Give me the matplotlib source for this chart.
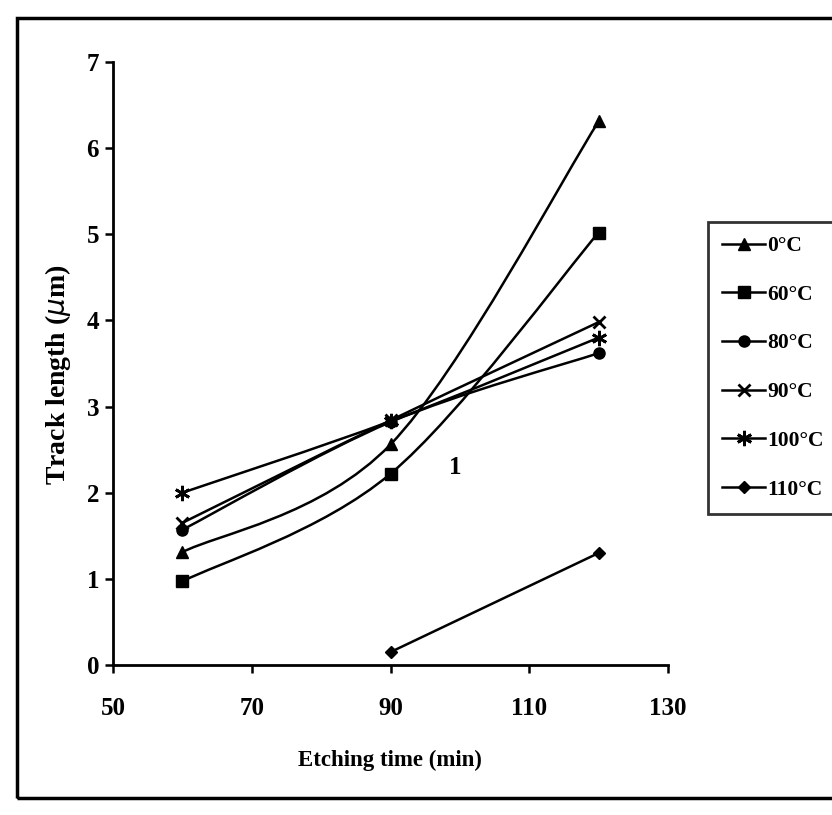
import matplotlib
matplotlib.use("Agg")
import matplotlib.pyplot as plt
from matplotlib.path import Path
from matplotlib.patches import PathPatch, Rectangle
from matplotlib.lines import Line2D

plt.rcParams['font.family'] = ['Liberation Serif', 'DejaVu Serif']

# ---- data ----
etch_time = [60, 90, 120]
labels = ['0\u00b0C', '60\u00b0C', '80\u00b0C', '90\u00b0C', '100\u00b0C', '110\u00b0C']
s0 = [1.31, 2.56, 6.31]
s60 = [0.97, 2.22, 5.02]
s80 = [1.57, 2.82, 3.62]
s90 = [1.65, 2.84, 3.98]
s100 = [2.00, 2.83, 3.80]
t110 = [90, 120]
s110 = [0.15, 1.30]
xticks = [50, 70, 90, 110, 130]
yticks = [0, 1, 2, 3, 4, 5, 6, 7]

series = [
    (etch_time, s0, '^', 8),
    (etch_time, s60, 's', 8),
    (etch_time, s80, 'o', 8),
    (etch_time, s90, 'x', 9),
    (etch_time, s100, (6, 2, 0), 11),
    (t110, s110, 'D', 6),
]

W, H = 832, 815
fig = plt.figure(figsize=(W / 100, H / 100), dpi=100)
ax = fig.add_axes([113 / W, 1 - 665 / H, (668 - 113) / W, (665 - 62) / H])


def smooth_path(xs, ys):
    pts = list(zip(xs, ys))
    n = len(pts)
    if n == 2:
        return Path(pts, [Path.MOVETO, Path.LINETO])
    verts = [pts[0]]
    codes = [Path.MOVETO]
    for i in range(n - 1):
        p0 = pts[i - 1] if i > 0 else pts[i]
        p1 = pts[i]
        p2 = pts[i + 1]
        p3 = pts[i + 2] if i + 2 < n else pts[i + 1]
        c1 = (p1[0] + (p2[0] - p0[0]) / 6, p1[1] + (p2[1] - p0[1]) / 6)
        c2 = (p2[0] - (p3[0] - p1[0]) / 6, p2[1] - (p3[1] - p1[1]) / 6)
        verts += [c1, c2, p2]
        codes += [Path.CURVE4] * 3
    return Path(verts, codes)


handles = []
for (xs, ys, mk, ms), lab in zip(series, labels):
    mew = 2 if mk in ('x', (6, 2, 0)) else 1
    ax.add_patch(PathPatch(smooth_path(xs, ys), facecolor='none', edgecolor='black', lw=1.8))
    ax.plot(xs, ys, linestyle='none', marker=mk, markersize=ms, color='black',
            markeredgewidth=mew)
    handles.append(Line2D([], [], color='black', lw=1.8, marker=mk, markersize=ms,
                          markeredgewidth=mew, label=lab))

ax.set_xlim(50, 130)
ax.set_ylim(0, 7)
ax.set_xticks(xticks)
ax.set_yticks(yticks)
ax.spines['top'].set_visible(False)
ax.spines['right'].set_visible(False)
ax.spines['left'].set_linewidth(2)
ax.spines['bottom'].set_linewidth(2)
ax.tick_params(axis='both', direction='out', length=6, width=1.8, labelsize=18)
for t in ax.get_xticklabels() + ax.get_yticklabels():
    t.set_fontweight('bold')
ax.tick_params(axis='x', pad=17)
ax.tick_params(axis='y', pad=4)

fig.text(390 / W, 1 - 760 / H, 'Etching time (min)', fontsize=16.5, fontweight='bold',
         ha='center', va='center')
fig.text(58 / W, 1 - 375 / H, 'Track length ($\\mu$m)', fontsize=20, fontweight='bold',
         ha='center', va='center', rotation=90)
ax.text(99.3, 2.29, '1', fontsize=18, fontweight='bold', ha='center', va='center')

leg = fig.legend(handles=handles, loc='upper left', bbox_to_anchor=(708 / W, 1 - 222 / H),
                 bbox_transform=fig.transFigure, frameon=True, fancybox=False,
                 edgecolor='black', handlelength=2.0, handletextpad=0.1,
                 labelspacing=1.33, borderpad=0.65, borderaxespad=0,
                 prop={'family': 'Liberation Serif', 'weight': 'bold', 'size': 15.5})
leg.get_frame().set_linewidth(2)

fig.patches.append(Rectangle((17 / W, 1 - 798 / H), 1.0, (798 - 18) / H,
                             transform=fig.transFigure, fill=False,
                             edgecolor='black', lw=2.5))

fig.savefig('out.png', dpi=100)
